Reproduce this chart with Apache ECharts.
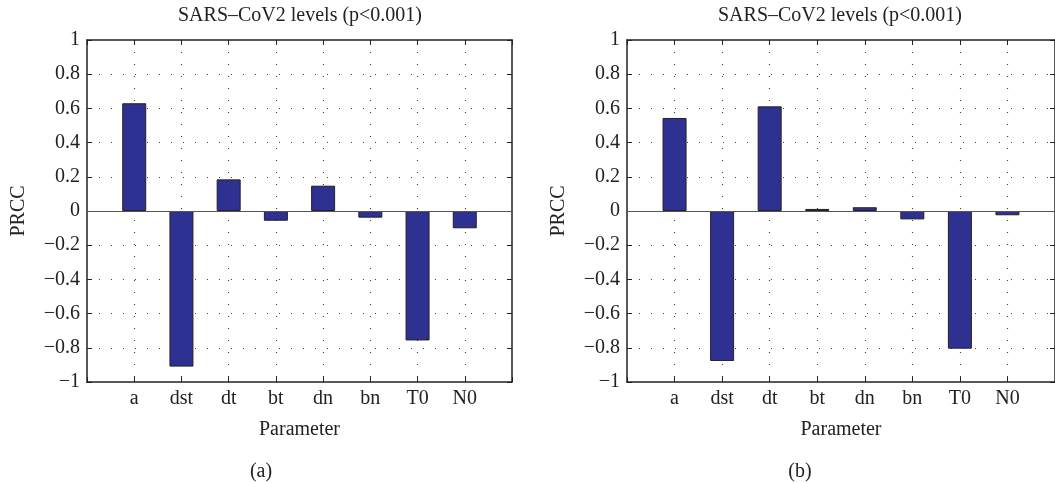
<!DOCTYPE html>
<html>
<head>
<meta charset="utf-8">
<script src="https://cdn.jsdelivr.net/npm/echarts@6/dist/echarts.min.js"></script>
<style>
html,body{margin:0;padding:0;background:#fff;}
#chart{width:1055px;height:483px;}
</style>
</head>
<body>
<div id="chart"></div>
<script>
// ---- data ----
const categories = ['a', 'dst', 'dt', 'bt', 'dn', 'bn', 'T0', 'N0'];
const prccA = [0.63, -0.91, 0.185, -0.057, 0.148, -0.039, -0.757, -0.101];
const prccB = [0.544, -0.877, 0.612, 0.012, 0.022, -0.049, -0.805, -0.025];
const yTicks = [-1, -0.8, -0.6, -0.4, -0.2, 0, 0.2, 0.4, 0.6, 0.8, 1];
const chartTitle = 'SARS\u2013CoV2 levels (p<0.001)';
const xName = 'Parameter';
const yName = 'PRCC';
const captions = ['(a)', '(b)'];

const FONT = 'Liberation Serif';
const FS = 20;
const chart = echarts.init(document.getElementById('chart'), null, {renderer: 'canvas'});

function fmtY(v) {
  const r = Math.round(v * 10) / 10;
  if (r === 0) return '0';
  return r < 0 ? '\u2212' + String(-r) : String(r);
}

const grids = [
  {left: 87, top: 40, width: 425, height: 342},
  {left: 627, top: 40, width: 428, height: 342}
];

const xAxes = [], yAxes = [], series = [];
grids.forEach((g, i) => {
  xAxes.push({
    gridIndex: i, type: 'value', min: 0, max: categories.length + 1, interval: 1,
    position: 'bottom',
    name: xName, nameLocation: 'middle', nameGap: 38,
    nameTextStyle: {fontFamily: FONT, fontSize: FS, color: '#222'},
    axisLine: {show: true, onZero: false, lineStyle: {color: '#222', width: 1.5}},
    axisTick: {show: true, inside: true, length: 5, lineStyle: {color: '#222', width: 1}},
    axisLabel: {
      fontFamily: FONT, fontSize: FS, color: '#222', margin: 7,
      formatter: v => (v >= 1 && v <= categories.length) ? categories[v - 1] : ''
    },
    splitLine: {show: true, showMinLine: false, showMaxLine: false,
      lineStyle: {color: '#444', type: [1, 11], width: 1.2}}
  });
  xAxes.push({
    gridIndex: i, type: 'value', min: 0, max: categories.length + 1, interval: 1,
    position: 'top',
    axisLine: {show: true, onZero: false, lineStyle: {color: '#222', width: 1.5}},
    axisTick: {show: true, inside: true, length: 5, lineStyle: {color: '#222', width: 1}},
    axisLabel: {show: false}, splitLine: {show: false}
  });
  yAxes.push({
    gridIndex: i, type: 'value', min: yTicks[0], max: yTicks[yTicks.length - 1], interval: 0.2,
    position: 'left',
    name: yName, nameLocation: 'middle', nameGap: 58, nameRotate: 90,
    nameTextStyle: {fontFamily: FONT, fontSize: FS, color: '#222'},
    axisLine: {show: true, onZero: false, lineStyle: {color: '#222', width: 1.5}},
    axisTick: {show: true, inside: true, length: 5, lineStyle: {color: '#222', width: 1}},
    axisLabel: {fontFamily: FONT, fontSize: FS, color: '#222', margin: 7, formatter: fmtY},
    splitLine: {show: true, showMinLine: false, showMaxLine: false,
      lineStyle: {color: '#444', type: [1, 11], width: 1.2}}
  });
  yAxes.push({
    gridIndex: i, type: 'value', min: yTicks[0], max: yTicks[yTicks.length - 1], interval: 0.2,
    position: 'right',
    axisLine: {show: true, onZero: false, lineStyle: {color: '#222', width: 1.5}},
    axisTick: {show: true, inside: true, length: 5, lineStyle: {color: '#222', width: 1}},
    axisLabel: {show: false}, splitLine: {show: false}
  });
  const vals = i === 0 ? prccA : prccB;
  series.push({
    type: 'bar', xAxisIndex: i * 2, yAxisIndex: i * 2,
    data: vals.map((v, k) => [k + 1, v]),
    barWidth: 24,
    itemStyle: {color: '#2E3192', borderColor: '#222', borderWidth: 1},
    silent: true,
    markLine: {
      silent: true, symbol: 'none', label: {show: false},
      lineStyle: {color: '#555', type: 'solid', width: 1},
      data: [{yAxis: 0}]
    }
  });
});

const graphics = [];
const titleX = [300, 840];
const capX = [261, 800];
for (let i = 0; i < 2; i++) {
  graphics.push({type: 'text', style: {text: chartTitle, x: titleX[i], y: 16, textAlign: 'center', textVerticalAlign: 'middle',
    font: FS + 'px "' + FONT + '"', fill: '#222'}});
  graphics.push({type: 'text', style: {text: captions[i], x: capX[i], y: 472, textAlign: 'center', textVerticalAlign: 'middle',
    font: FS + 'px "' + FONT + '"', fill: '#222'}});
}

chart.setOption({
  animation: false,
  backgroundColor: '#fff',
  grid: grids.map(g => Object.assign({containLabel: false, outerBoundsMode: 'none'}, g)),
  xAxis: xAxes,
  yAxis: yAxes,
  series: series,
  graphic: graphics
});
</script>
</body>
</html>
